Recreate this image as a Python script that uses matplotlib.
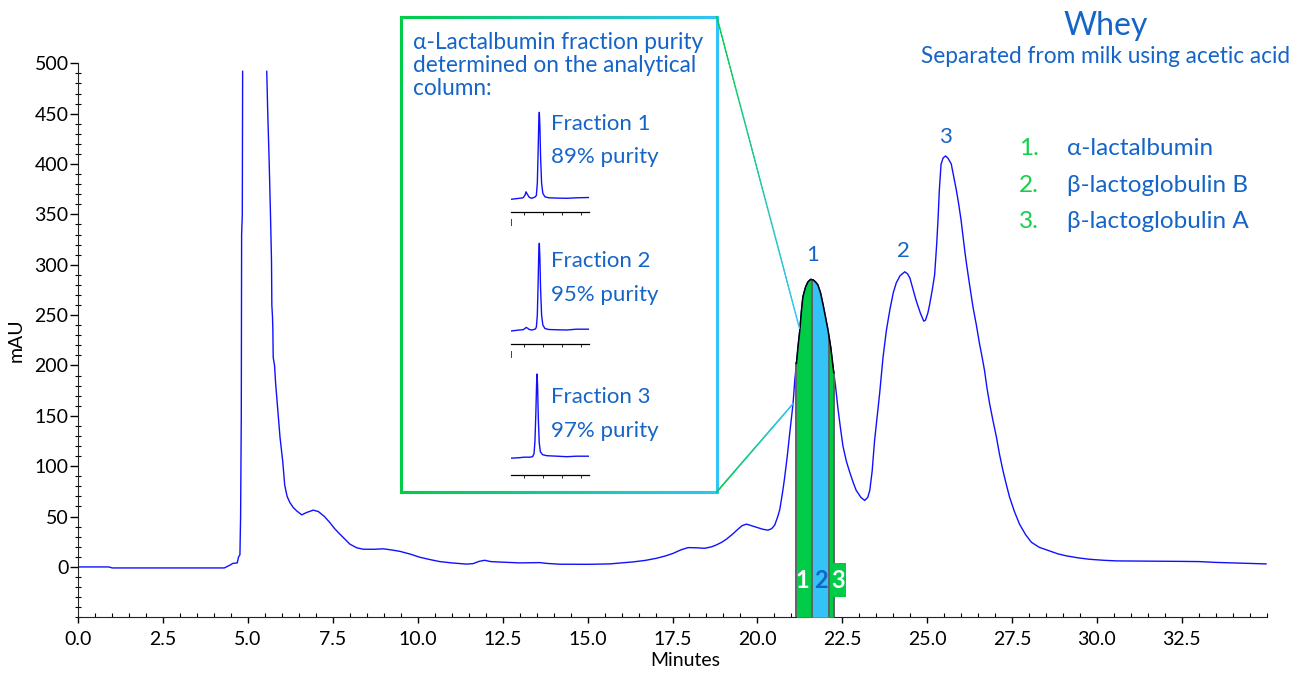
import numpy as np
import matplotlib

matplotlib.use("Agg")
import matplotlib.pyplot as plt
from matplotlib.collections import LineCollection
from matplotlib.colors import to_rgb
from matplotlib.patches import Rectangle
from matplotlib.ticker import MultipleLocator

plt.rcParams["font.family"] = ["Lato", "DejaVu Sans"]

BLUE_LINE = "#1010ff"
TEXT_BLUE = "#1565c8"
GREEN = "#00cc47"
CYAN = "#33c3f7"

# main chromatogram (minutes, mAU); NaN = off scale
TIME = [0.0, 0.9, 1.0, 3.0, 4.3, 4.45, 4.55, 4.68, 4.72, 4.76, 4.78, 4.80, 4.81, 4.83, 4.84,
        5.2,
        5.55, 5.58, 5.62, 5.66, 5.69, 5.70, 5.72, 5.73, 5.74, 5.78, 5.81, 5.86, 5.94, 6.02,
        6.08, 6.15, 6.23, 6.33, 6.43, 6.58, 6.72, 6.92, 7.07, 7.25, 7.41, 7.55, 7.70, 8.0,
        8.2, 8.39, 8.7, 8.98, 9.2, 9.47, 9.8, 10.06, 10.4, 10.65, 11.0, 11.43, 11.63, 11.8,
        11.97, 12.15, 12.32, 13.0, 13.59, 13.8, 14.18, 15.0, 15.65, 16.0, 16.34, 16.7, 17.03,
        17.3, 17.52, 17.75, 17.96, 18.2, 18.45, 18.65, 18.79, 18.95, 19.09, 19.25, 19.43,
        19.55, 19.68, 19.82, 19.97, 20.15, 20.31, 20.42, 20.51, 20.60, 20.66, 20.75, 20.80,
        20.88, 20.95, 21.05, 21.10, 21.15, 21.20, 21.25, 21.30, 21.34, 21.42, 21.49, 21.57,
        21.64, 21.71, 21.78, 21.86, 21.93, 22.00, 22.08, 22.16, 22.23, 22.30, 22.37, 22.45,
        22.52, 22.62, 22.72, 22.82, 22.91, 23.05, 23.16, 23.25, 23.31, 23.38, 23.45, 23.53,
        23.60, 23.70, 23.80, 23.90, 24.0, 24.09, 24.2, 24.34, 24.42, 24.49, 24.58, 24.68,
        24.80, 24.90, 24.95, 25.02, 25.07, 25.15, 25.22, 25.28, 25.32, 25.36, 25.41, 25.47,
        25.54, 25.61, 25.71, 25.78, 25.86, 25.93, 26.0, 26.05, 26.10, 26.15, 26.25, 26.35,
        26.45, 26.54, 26.62, 26.69, 26.76, 26.84, 26.94, 27.04, 27.13, 27.23, 27.33, 27.43,
        27.57, 27.72, 27.9, 28.07, 28.3, 28.60, 28.85, 29.10, 29.45, 29.78, 30.2, 30.57,
        31.5, 32.5, 33.02, 33.5, 34.0, 34.98]
MAU = [0.0, 0.0, -1.0, -1.0, -1.0, 1.5, 3.5, 4.0, 10, 12, 50, 150, 330, 350, 492,
       np.nan,
       492, 450, 404, 350, 304, 260, 248, 235, 208, 200, 183, 162, 129, 105,
       81, 70, 64, 59, 55.7, 51.7, 54, 56.4, 55, 50, 44, 38, 32.7, 22.6,
       19, 17.6, 17.5, 18, 17, 15.5, 12.5, 9.6, 7, 5.3, 4, 2.8, 3.3, 5.5,
       6.6, 5.3, 5.0, 4.0, 4.3, 3.5, 2.7, 2.6, 3.0, 4, 5.0, 6.5, 8.6,
       11, 13.5, 17, 19.2, 19, 18.5, 20, 21.8, 24.5, 27.6, 32, 37.5,
       41, 42.5, 41, 39.5, 37.5, 36.5, 38, 41.5, 50, 57, 76, 88,
       110, 132, 162, 185, 202, 220, 235, 255, 268, 278, 283, 285.5,
       285, 283, 280, 272, 261, 249, 235, 218, 198, 180, 158, 137,
       120, 105, 94, 84, 76, 69, 66, 69, 76, 95, 125, 150,
       172, 208, 235, 255, 272, 282, 289, 293, 291, 287, 276, 264,
       252, 244, 245, 252, 260, 275, 290, 320, 345, 375, 400, 406,
       408, 406, 400, 388, 374, 360, 344, 330, 316, 303, 280, 258,
       240, 222, 208, 195, 178, 162, 145, 129, 112, 96, 82, 69,
       55, 42.5, 32, 24.5, 19.5, 16, 13, 11, 9, 7.6, 6.6, 6.0,
       5.8, 5.5, 5.3, 4.5, 4.0, 3.0]

FRACTION_EDGES = [21.15, 21.62, 22.11, 22.25]
FRACTION_COLORS = [GREEN, CYAN, GREEN]
FRACTION_TAGS = ["1", "2", "3"]
FRACTION_TAG_X = [21.33, 21.86, 22.38]
FRACTION_TAG_COLORS = ["white", TEXT_BLUE, "white"]

PEAK_TAGS = ["1", "2", "3"]
PEAK_X = [21.62, 24.29, 25.54]
PEAK_Y = [310, 314, 427]

LEGEND_NUMS = ["1.", "2.", "3."]
LEGEND_NAMES = ["α-lactalbumin", "β-lactoglobulin B", "β-lactoglobulin A"]

# analytical runs of the three fractions
MINI_T = [
    [0.63, 1.5, 1.9, 2.1, 2.21, 2.35, 2.55, 2.8, 2.95, 3.2, 3.3, 3.4, 3.48, 3.55, 3.61,
     3.67, 3.74, 3.85, 3.98, 4.2, 4.6, 5.5, 6.5, 7.5, 8.87],
    [0.63, 1.5, 1.9, 2.1, 2.21, 2.35, 2.55, 2.8, 2.95, 3.2, 3.3, 3.4, 3.48, 3.55, 3.61,
     3.67, 3.74, 3.85, 3.98, 4.2, 4.6, 5.5, 6.5, 7.5, 8.87],
    [0.63, 1.5, 2.0, 2.6, 2.9, 3.05, 3.15, 3.25, 3.32, 3.37, 3.43, 3.5, 3.6, 3.72, 3.95,
     4.4, 5.5, 6.5, 7.5, 8.87],
]
MINI_A = [
    [-1, 0, 0.5, 3, 6.5, 4, 1, 0, 0.5, 1.5, 3, 15, 45, 75, 86,
     72, 42, 15, 5, 1.5, 0.5, 0.2, 0, 0.5, 0.8],
    [-1, 0, 0.3, 1.5, 2.5, 2, 0.5, 0, 0.3, 1, 3, 15, 45, 76, 86.7,
     72, 42, 15, 5, 1.5, 0.5, 0.2, 0, 0.8, 0.8],
    [-1.5, -1, -0.5, -0.5, 0, 3, 15, 45, 72, 82.7, 70, 40, 14, 5, 2,
     1, 0.5, 0, 0.5, 0.5],
]
MINI_NAMES = ["Fraction 1", "Fraction 2", "Fraction 3"]
MINI_PURITY = ["89% purity", "95% purity", "97% purity"]


def gradient_line(axis, p0, p1, c0, c1, lw, n=80):
    xs = np.linspace(p0[0], p1[0], n + 1)
    ys = np.linspace(p0[1], p1[1], n + 1)
    pts = np.column_stack([xs, ys])
    segs = np.stack([pts[:-1], pts[1:]], axis=1)
    f = np.linspace(0, 1, n)[:, None]
    cols = (1 - f) * np.array(to_rgb(c0)) + f * np.array(to_rgb(c1))
    axis.add_collection(LineCollection(segs, colors=cols, linewidths=lw, capstyle="projecting"))


W, H = 1307, 673
fig = plt.figure(figsize=(W / 100, H / 100), dpi=100)
ax = fig.add_axes([78.3 / W, (H - 617.3) / H, 1188.4 / W, 554 / H])

t = np.array(TIME)
a = np.array(MAU)
ax.plot(t, a, color=BLUE_LINE, lw=1.0, zorder=2)

for i in range(3):
    xs = np.linspace(FRACTION_EDGES[i], FRACTION_EDGES[i + 1], 40)
    ax.fill_between(xs, -50, np.interp(xs, t, a), color=FRACTION_COLORS[i], lw=0, zorder=3)
for e in FRACTION_EDGES:
    ax.plot([e, e], [-50, np.interp(e, t, a)], color="#5f6368", lw=1.4, zorder=4)
xs = np.linspace(FRACTION_EDGES[0], FRACTION_EDGES[-1], 120)
ax.plot(xs, np.interp(xs, t, a), color="black", lw=1.1, zorder=5)

ax.add_patch(Rectangle((22.13, -30), 0.47, 34, color=GREEN, lw=0, zorder=5))
for tag, x, c in zip(FRACTION_TAGS, FRACTION_TAG_X, FRACTION_TAG_COLORS):
    ax.text(x, -13, tag, color=c, fontsize=17, fontweight="bold", ha="center", va="center",
            zorder=6)

for tag, x, y in zip(PEAK_TAGS, PEAK_X, PEAK_Y):
    ax.text(x, y, tag, color=TEXT_BLUE, fontsize=16, ha="center", va="center")

ax.set_xlim(0, 35)
ax.set_ylim(-50, 500)
for s in ["top", "right"]:
    ax.spines[s].set_visible(False)
for s in ["left", "bottom"]:
    ax.spines[s].set_color("#222222")
ax.set_xticks(np.arange(0, 33, 2.5))
ax.set_xticklabels([f"{v:.1f}" for v in np.arange(0, 33, 2.5)])
ax.set_yticks(np.arange(0, 501, 50))
ax.xaxis.set_minor_locator(MultipleLocator(0.5))
ax.yaxis.set_minor_locator(MultipleLocator(10))
ax.tick_params(axis="x", which="major", direction="out", length=4, width=1, pad=6, labelsize=14)
ax.tick_params(axis="x", which="minor", direction="in", length=3, width=0.8)
ax.tick_params(axis="y", which="major", direction="out", length=6, width=1, pad=1, labelsize=14)
ax.tick_params(axis="y", which="minor", direction="inout", length=4, width=0.8)
ax.set_xlabel("Minutes", fontsize=14)
ax.xaxis.set_label_coords(0.511, -0.062)
ax.set_ylabel("mAU", fontsize=14, labelpad=7)

# overlay in pixel coordinates for the callout
ov = fig.add_axes([0, 0, 1, 1], zorder=3)
ov.set_xlim(0, W)
ov.set_ylim(H, 0)
ov.axis("off")

bx0, by0, bx1, by1 = 401, 16.7, 716.7, 492
gradient_line(ov, (bx0, by0), (bx1, by0), GREEN, CYAN, 2.2)
gradient_line(ov, (bx0, by1), (bx1, by1), GREEN, CYAN, 2.2)
ov.plot([bx0, bx0], [by0, by1], color=GREEN, lw=2.2, solid_capstyle="projecting")
ov.plot([bx1, bx1], [by0, by1], color=CYAN, lw=2.2, solid_capstyle="projecting")

for (px, py), (dx, dy) in [((bx1, by0), (21.24, 237)), ((bx1, by1), (21.05, 162))]:
    ex, ey = ax.transData.transform((dx, dy))
    gradient_line(ov, (px, py), (ex, H - ey), GREEN, CYAN, 1.0)

for y, line in zip([49.3, 71.7, 95], ["α-Lactalbumin fraction purity",
                                       "determined on the analytical", "column:"]):
    ov.text(413, y, line, color=TEXT_BLUE, fontsize=16.3, va="baseline")

name_y = [130, 267.3, 402.7]
purity_y = [163.3, 301, 436.7]
axis_py = [212.3, 344.3, 475.3]
base_py = [198.3, 330, 456.7]
for i in range(3):
    ov.text(551, name_y[i], MINI_NAMES[i], color=TEXT_BLUE, fontsize=16, va="baseline")
    ov.text(551, purity_y[i], MINI_PURITY[i], color=TEXT_BLUE, fontsize=16, va="baseline")
    off = axis_py[i] - base_py[i]
    top = 90
    mi = fig.add_axes([511 / W, (H - axis_py[i]) / H, 78.3 / W, (off + top) / H], zorder=4)
    mi.patch.set_alpha(0)
    mi.plot(MINI_T[i], MINI_A[i], color=BLUE_LINE, lw=1.0)
    mi.set_xlim(0.63, 8.87)
    mi.set_ylim(-off, top)
    for s in ["top", "right", "left"]:
        mi.spines[s].set_visible(False)
    mi.spines["bottom"].set_linewidth(0.9)
    mi.set_xticks([2, 4, 6, 8])
    mi.set_yticks([])
    mi.tick_params(axis="x", direction="out", length=2, width=0.6, labelbottom=False)
    if i < 2:
        mi.plot([0, 0], [-0.12, -0.06], transform=mi.transAxes, clip_on=False,
                color="#444444", lw=0.7)

ov.text(1105.5, 35, "Whey", color=TEXT_BLUE, fontsize=23, ha="center", va="baseline")
ov.text(1105.5, 62.7, "Separated from milk using acetic acid", color=TEXT_BLUE,
        fontsize=16.3, ha="center", va="baseline")
for y, num, name in zip([155, 191.7, 228.3], LEGEND_NUMS, LEGEND_NAMES):
    ov.text(1019.3, y, num, color="#13d04a", fontsize=17.5, va="baseline")
    ov.text(1066.7, y, name, color=TEXT_BLUE, fontsize=17.5, va="baseline")

fig.savefig("out.png", dpi=100)
